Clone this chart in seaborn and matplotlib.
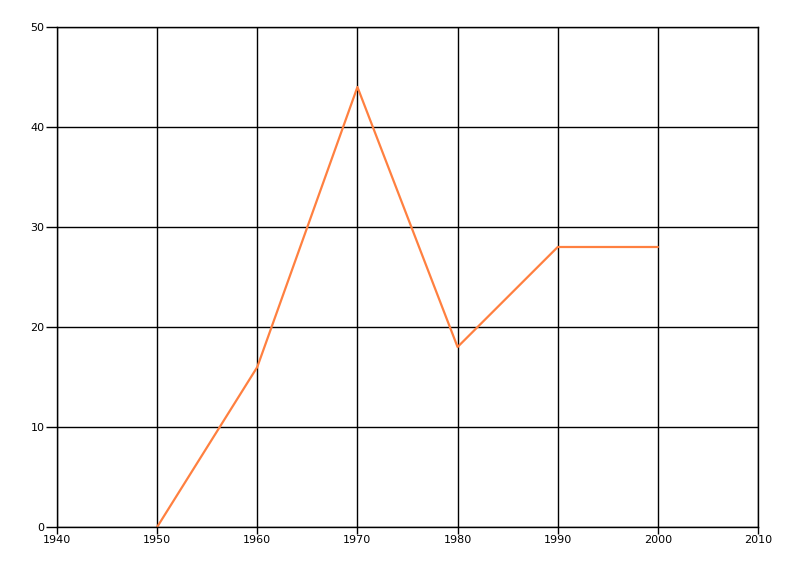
import matplotlib
matplotlib.use("Agg")
import matplotlib.pyplot as plt
import seaborn as sns
import pandas as pd

years = [1950, 1960, 1970, 1980, 1990, 2000]
values = [0, 16, 44, 18, 28, 28]
x_ticks = [1940, 1950, 1960, 1970, 1980, 1990, 2000, 2010]
y_ticks = [0, 10, 20, 30, 40, 50]

sns.set_style("white")
plt.rcParams['font.family'] = ['DejaVu Sans']

df = pd.DataFrame({"year": years, "value": values})

fig = plt.figure(figsize=(8, 5.76), dpi=100)
ax = fig.add_axes([57/800, 1 - 527/576, (758-57)/800, (527-27)/576])
sns.lineplot(data=df, x="year", y="value", ax=ax, color="#FF8040", linewidth=1.6)

ax.set_xlim(1940, 2010)
ax.set_ylim(0, 50)
ax.set_xticks(x_ticks)
ax.set_yticks(y_ticks)
ax.set_xlabel("")
ax.set_ylabel("")
ax.grid(True, color="black", linewidth=1)
ax.set_axisbelow(True)
for s in ax.spines.values():
    s.set_color("black")
    s.set_linewidth(1)
ax.tick_params(axis="x", direction="out", length=5, width=1, color="black", labelcolor="black", labelsize=8, pad=1)
ax.tick_params(axis="y", direction="out", length=8, width=1, color="black", labelcolor="black", labelsize=8, pad=1)
ax.xaxis.set_ticks_position("bottom")
ax.yaxis.set_ticks_position("left")

fig.savefig("out.png", dpi=100)
